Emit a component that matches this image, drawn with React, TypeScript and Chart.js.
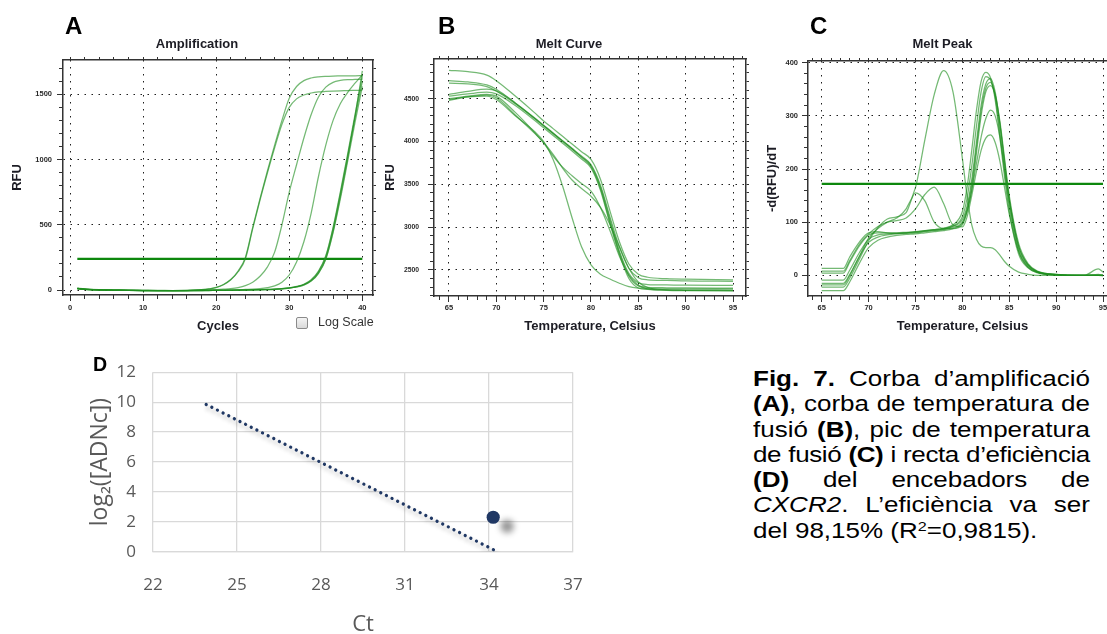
import React, { useEffect, useRef } from "react";
import { Chart, registerables } from "chart.js";

Chart.register(...registerables);

/* ---------------- data ---------------- */

// Panel A – amplification (RFU vs cycle)
const AMP_CYCLES = [1, 2, 4, 6, 8, 10, 12, 14, 16, 18, 19, 20, 21, 22, 23, 24, 25, 26, 27, 28, 29, 30, 31, 32, 33, 34, 35, 36, 37, 38, 39, 40];
const AMP_1 = [14, 8, 2, 0, -2, -3, -4, -4, -3, 3, 9, 20, 42, 80, 145, 250, 480, 700, 910, 1110, 1300, 1470, 1560, 1605, 1625, 1634, 1638, 1640, 1641, 1642, 1642, 1643];
const AMP_2 = [12, 6, 1, -1, -3, -4, -4, -5, -4, 2, 8, 18, 40, 78, 140, 240, 470, 690, 895, 1090, 1270, 1400, 1465, 1495, 1510, 1518, 1522, 1525, 1527, 1528, 1530, 1532];
const AMP_3 = [10, 5, 0, -2, -3, -4, -4, -4, -3, -1, 1, 3, 6, 10, 18, 33, 60, 105, 175, 290, 500, 750, 960, 1165, 1345, 1480, 1555, 1592, 1606, 1612, 1614, 1616];
const AMP_4 = [9, 4, 0, -2, -3, -4, -4, -4, -4, -3, -2, -1, 0, 1, 2, 4, 6, 10, 18, 32, 60, 115, 215, 370, 590, 870, 1110, 1300, 1430, 1515, 1585, 1650];
const AMP_5 = [11, 5, 1, -1, -3, -4, -4, -4, -4, -4, -4, -3, -3, -2, -1, 0, 1, 2, 4, 6, 10, 16, 26, 42, 75, 140, 255, 470, 740, 1030, 1320, 1600];
const AMP_6 = [13, 7, 2, 0, -2, -3, -3, -4, -4, -3, -3, -2, -2, -1, 0, 1, 2, 3, 5, 7, 11, 17, 27, 44, 78, 145, 262, 480, 755, 1045, 1345, 1640];
const AMP_7 = [10, 5, 1, -1, -2, -3, -4, -4, -4, -4, -3, -3, -2, -2, -1, 0, 1, 2, 3, 5, 9, 15, 24, 40, 70, 130, 240, 450, 720, 1010, 1330, 1680];
const AMP_8 = [12, 6, 1, -1, -3, -4, -4, -5, -5, -4, -4, -3, -3, -2, -2, -1, 0, 1, 3, 5, 9, 14, 23, 38, 68, 128, 236, 440, 700, 990, 1285, 1560];
const AMP_THRESHOLD = 238;
const AMP_THRESHOLD_X = [1, 40];
const AMP_X_TICKS = [0, 10, 20, 30, 40];
const AMP_Y_TICKS = [0, 500, 1000, 1500];

// Panel B – melt curve (RFU vs temperature)
const MELT_TEMPS = [65, 67, 69, 70, 72, 74, 75, 76, 77, 78, 79, 80, 81, 82, 83, 84, 85, 86, 88, 90, 95];
const MELT_1 = [4830, 4815, 4775, 4710, 4530, 4340, 4240, 4150, 4060, 3970, 3880, 3790, 3560, 3190, 2830, 2570, 2450, 2415, 2398, 2392, 2385];
const MELT_2 = [4710, 4695, 4660, 4610, 4450, 4280, 4190, 4100, 4010, 3920, 3830, 3730, 3490, 3120, 2770, 2520, 2410, 2385, 2378, 2372, 2368];
const MELT_3 = [4680, 4672, 4640, 4590, 4440, 4270, 4180, 4090, 4000, 3910, 3820, 3720, 3470, 3090, 2720, 2460, 2350, 2330, 2325, 2322, 2320];
const MELT_4 = [4550, 4585, 4610, 4590, 4450, 4275, 4185, 4095, 4005, 3915, 3815, 3705, 3450, 3060, 2700, 2430, 2315, 2298, 2292, 2290, 2288];
const MELT_5 = [4530, 4555, 4575, 4555, 4420, 4250, 4160, 4070, 3980, 3890, 3795, 3690, 3430, 3040, 2680, 2400, 2290, 2272, 2267, 2265, 2264];
const MELT_6 = [4500, 4530, 4550, 4530, 4340, 4110, 3980, 3830, 3700, 3600, 3510, 3420, 3230, 2960, 2660, 2440, 2320, 2280, 2262, 2258, 2255];
const MELT_7 = [4480, 4520, 4540, 4510, 4310, 4100, 3990, 3850, 3690, 3550, 3450, 3360, 3230, 3030, 2770, 2520, 2360, 2295, 2268, 2263, 2260];
const MELT_8 = [4490, 4520, 4530, 4490, 4300, 4120, 4000, 3790, 3480, 3110, 2770, 2560, 2450, 2395, 2345, 2305, 2288, 2282, 2280, 2280, 2280];
const MELT_X_TICKS = [65, 70, 75, 80, 85, 90, 95];
const MELT_Y_TICKS = [2500, 3000, 3500, 4000, 4500];

// Panel C – melt peak (-d(RFU)/dT vs temperature)
const PEAK_TEMPS = [65, 67.3, 68, 69, 70, 71, 72, 73, 74, 75, 76, 77, 78, 79, 80, 80.5, 81, 81.5, 82, 82.5, 83, 83.5, 84, 84.5, 85, 86, 87, 88, 90, 93, 94.5, 95];
const PEAK_1 = [13, 13, 35, 62, 80, 82, 80, 79, 80, 82, 84, 86, 89, 95, 120, 165, 235, 310, 365, 382, 372, 330, 260, 185, 120, 40, 14, 5, 1, 0, 2, 0];
const PEAK_2 = [4, 4, 25, 55, 76, 80, 80, 80, 81, 82, 84, 86, 88, 93, 110, 145, 205, 280, 345, 374, 368, 335, 270, 195, 130, 45, 15, 5, 1, 0, 12, 6];
const PEAK_3 = [-9, -9, 10, 42, 68, 76, 78, 79, 80, 81, 83, 85, 87, 92, 105, 130, 180, 250, 320, 360, 370, 345, 285, 210, 140, 50, 18, 6, 1, 0, 0, 0];
const PEAK_4 = [-15, -15, 2, 35, 62, 72, 76, 78, 79, 80, 82, 84, 86, 90, 100, 125, 170, 240, 310, 352, 363, 340, 285, 215, 145, 55, 20, 7, 1, 0, 0, -1];
const PEAK_5 = [-29, -29, -12, 22, 52, 66, 72, 75, 77, 78, 80, 82, 84, 88, 98, 120, 160, 230, 300, 345, 357, 340, 290, 220, 150, 60, 22, 8, 2, 0, 0, 0];
const PEAK_6 = [-22, -22, -5, 30, 65, 90, 106, 110, 118, 155, 140, 100, 88, 88, 95, 120, 160, 210, 260, 295, 311, 300, 260, 200, 140, 55, 20, 7, 2, 0, 0, 0];
const PEAK_7 = [8, 8, 28, 58, 78, 92, 100, 103, 108, 125, 152, 166, 135, 95, 91, 110, 150, 195, 235, 258, 264, 250, 215, 165, 115, 45, 16, 6, 1, 0, 0, 0];
const PEAK_8 = [-18, -18, 0, 35, 70, 88, 100, 108, 125, 165, 255, 340, 385, 345, 220, 150, 95, 68, 55, 52, 52, 48, 38, 26, 17, 6, 2, 0, 0, 0, 0, 0];
const PEAK_THRESHOLD = 172;
const PEAK_THRESHOLD_X = [65, 95];
const PEAK_X_TICKS = [65, 70, 75, 80, 85, 90, 95];
const PEAK_Y_TICKS = [0, 100, 200, 300, 400];

// Panel D – efficiency line
const EFF_TREND_CT = [23.9, 34.27];
const EFF_TREND_LOG = [9.85, 0.05];
const EFF_POINT_CT = [34.15];
const EFF_POINT_LOG = [2.32];
const EFF_X_TICKS = [22, 25, 28, 31, 34, 37];
const EFF_Y_TICKS = [0, 2, 4, 6, 8, 10, 12];

/* ---------------- styling helpers ---------------- */

const FONT = '"Liberation Sans", Arial, Helvetica, sans-serif';
const CURVE_COLOR = "rgba(30, 142, 30, 0.62)";
const THRESHOLD_COLOR = "#0d870d";
const AXIS_COLOR = "#333333";
const GRID_DOT_COLOR = "#1e1e1e";
const LABEL_COLOR = "#2a2a2a";
const NAVY = "#203864";
const OFFICE_GREY = "#595959";

function range(a: number, b: number, step: number) {
  const out: number[] = [];
  for (let v = a; v <= b + 1e-9; v += step) out.push(+v.toFixed(4));
  return out;
}

const setTicks = (vals: number[]) => (scale: any) => {
  scale.ticks = vals.map((v) => ({ value: v }));
};

type InstrSpec = {
  xs: number[];
  curves: number[][];
  thrX: number[];
  thrY: number;
  xMin: number;
  xMax: number;
  yMin: number;
  yMax: number;
  xMajor: number[];
  yMajor: number[];
  xMinor: number[];
  yMinor: number[];
  xTitle: string;
  yTitle: string;
  yAxisWidth: number;
  yTitlePad: number;
  yTitleLineHeight: number;
  yTickPad: number;
  yTickSize: number;
  xTickPad: number;
  padTop: number;
  padRight: number;
  xAxisHeight: number;
};

function minorAxis(position: string, min: number, max: number, ticks: number[], len: number, border: boolean) {
  const horizontal = position === "top" || position === "bottom";
  return {
    type: "linear",
    position,
    weight: -1,
    min,
    max,
    afterBuildTicks: setTicks(ticks),
    afterFit: (s: any) => {
      if (horizontal) s.height = 0;
      else s.width = 0;
    },
    ticks: { display: false },
    grid: { drawOnChartArea: false, drawTicks: true, tickLength: len, tickColor: AXIS_COLOR, tickWidth: 1 },
    border: { display: border, color: AXIS_COLOR, width: 1.5 },
  };
}

function instrConfig(p: InstrSpec): any {
  const datasets: any[] = p.curves.map((c) => ({
    data: p.xs.map((x, i) => ({ x, y: c[i] })),
    borderColor: CURVE_COLOR,
    borderWidth: 1.25,
    pointRadius: 0,
    cubicInterpolationMode: "monotone",
    xAxisID: "x",
    yAxisID: "y",
  }));
  datasets.push({
    data: p.thrX.map((x) => ({ x, y: p.thrY })),
    borderColor: THRESHOLD_COLOR,
    borderWidth: 2.2,
    pointRadius: 0,
    xAxisID: "x",
    yAxisID: "y",
  });
  const tickFont = { family: FONT, size: 7.5, weight: "bold" };
  const titleFont = { family: FONT, size: 13, weight: "bold", lineHeight: 1.2 };
  const label = (v: any) => String(v);
  return {
    type: "line",
    data: { datasets },
    options: {
      animation: false,
      responsive: false,
      devicePixelRatio: 1,
      layout: { padding: { top: p.padTop, right: p.padRight, left: 0, bottom: 0 } },
      plugins: { legend: { display: false }, tooltip: { enabled: false } },
      scales: {
        x: {
          type: "linear",
          position: "bottom",
          min: p.xMin,
          max: p.xMax,
          afterBuildTicks: setTicks(p.xMajor),
          afterFit: (s: any) => {
            s.height = p.xAxisHeight;
          },
          ticks: { font: tickFont, color: LABEL_COLOR, padding: p.xTickPad, maxRotation: 0, autoSkip: false, callback: label },
          grid: { color: GRID_DOT_COLOR, lineWidth: 1, drawTicks: true, tickLength: 6, tickColor: AXIS_COLOR, tickWidth: 1 },
          border: { display: true, color: AXIS_COLOR, width: 1.5, dash: [1.5, 5.5] },
          title: { display: true, text: p.xTitle, font: titleFont, color: "#1c1c24", padding: { top: 0, bottom: 11.2 } },
        },
        xm: minorAxis("bottom", p.xMin, p.xMax, p.xMinor, 4, false),
        xt: minorAxis("top", p.xMin, p.xMax, p.xMinor, 3, true),
        y: {
          type: "linear",
          position: "left",
          min: p.yMin,
          max: p.yMax,
          afterBuildTicks: setTicks(p.yMajor),
          afterFit: (s: any) => {
            s.width = p.yAxisWidth;
          },
          ticks: { font: { ...tickFont, size: p.yTickSize }, color: LABEL_COLOR, padding: p.yTickPad, autoSkip: false, callback: label },
          grid: { color: GRID_DOT_COLOR, lineWidth: 1, drawTicks: true, tickLength: 6, tickColor: AXIS_COLOR, tickWidth: 1 },
          border: { display: true, color: AXIS_COLOR, width: 1.5, dash: [1.5, 5.5] },
          title: {
            display: true,
            text: p.yTitle,
            font: { ...titleFont, lineHeight: p.yTitleLineHeight },
            color: "#1c1c24",
            padding: { top: p.yTitlePad, bottom: 0 },
          },
        },
        ym: minorAxis("left", p.yMin, p.yMax, p.yMinor, 4, false),
        yr: minorAxis("right", p.yMin, p.yMax, p.yMinor, 3, true),
      },
    },
  };
}

const makeA = () =>
  instrConfig({
    xs: AMP_CYCLES,
    curves: [AMP_1, AMP_2, AMP_3, AMP_4, AMP_5, AMP_6, AMP_7, AMP_8],
    thrX: AMP_THRESHOLD_X,
    thrY: AMP_THRESHOLD,
    xMin: -0.96,
    xMax: 41.46,
    yMin: -38.3,
    yMax: 1763,
    xMajor: AMP_X_TICKS,
    yMajor: AMP_Y_TICKS,
    xMinor: range(0, 40, 2),
    yMinor: range(0, 1700, 100),
    xTitle: "Cycles",
    yTitle: "RFU",
    yAxisWidth: 63,
    yTitlePad: 9.2,
    yTitleLineHeight: 1.2,
    yTickPad: 5,
    yTickSize: 7.5,
    xTickPad: 2.5,
    padTop: 60,
    padRight: 12,
    xAxisHeight: 50,
  });

const makeB = () =>
  instrConfig({
    xs: MELT_TEMPS,
    curves: [MELT_1, MELT_2, MELT_3, MELT_4, MELT_5, MELT_6, MELT_7, MELT_8],
    thrX: [],
    thrY: 0,
    xMin: 63.42,
    xMax: 96.37,
    yMin: 2196,
    yMax: 4963,
    xMajor: MELT_X_TICKS,
    yMajor: MELT_Y_TICKS,
    xMinor: range(64, 96, 1),
    yMinor: range(2200, 4900, 100),
    xTitle: "Temperature, Celsius",
    yTitle: "RFU",
    yAxisWidth: 49,
    yTitlePad: -1,
    yTitleLineHeight: 1.0,
    yTickPad: 9,
    yTickSize: 6.8,
    xTickPad: 1.5,
    padTop: 59,
    padRight: 14,
    xAxisHeight: 49,
  });

const makeC = () =>
  instrConfig({
    xs: PEAK_TEMPS,
    curves: [PEAK_1, PEAK_2, PEAK_3, PEAK_4, PEAK_5, PEAK_6, PEAK_7, PEAK_8],
    thrX: PEAK_THRESHOLD_X,
    thrY: PEAK_THRESHOLD,
    xMin: 63.54,
    xMax: 96.49,
    yMin: -38.9,
    yMax: 403.2,
    xMajor: PEAK_X_TICKS,
    yMajor: PEAK_Y_TICKS,
    xMinor: range(64, 96, 1),
    yMinor: range(-20, 400, 20),
    xTitle: "Temperature, Celsius",
    yTitle: "-d(RFU)/dT",
    yAxisWidth: 48,
    yTitlePad: 4.2,
    yTitleLineHeight: 1.2,
    yTickPad: 4,
    yTickSize: 7.5,
    xTickPad: 1.5,
    padTop: 61,
    padRight: 13,
    xAxisHeight: 49,
  });

const shadowPlugin = {
  id: "datasetShadow",
  beforeDatasetDraw(chart: any, args: any) {
    const ds: any = chart.data.datasets[args.index];
    if (!ds.shadow) return;
    const ctx = chart.ctx;
    ctx.save();
    ctx.shadowColor = ds.shadow.color;
    ctx.shadowBlur = ds.shadow.blur;
    ctx.shadowOffsetX = ds.shadow.x;
    ctx.shadowOffsetY = ds.shadow.y;
  },
  afterDatasetDraw(chart: any, args: any) {
    const ds: any = chart.data.datasets[args.index];
    if (ds.shadow) chart.ctx.restore();
  },
};

const makeD = (): any => {
  const officeFont = '"Open Sans", "Noto Sans", sans-serif';
  return {
    type: "scatter",
    data: {
      datasets: [
        {
          data: EFF_TREND_CT.map((x, i) => ({ x, y: EFF_TREND_LOG[i] })),
          showLine: true,
          borderColor: NAVY,
          borderWidth: 3.3,
          borderDash: [0.01, 6.3],
          borderCapStyle: "round",
          pointRadius: 0,
          shadow: { color: "rgba(0,0,0,0.30)", blur: 4, x: 2, y: 4 },
        },
        {
          data: EFF_POINT_CT.map((x, i) => ({ x, y: EFF_POINT_LOG[i] })),
          pointRadius: 6.6,
          backgroundColor: NAVY,
          borderColor: NAVY,
          borderWidth: 0,
          shadow: { color: "rgba(0,0,0,0.42)", blur: 6, x: 14, y: 9 },
        },
      ],
    },
    plugins: [shadowPlugin],
    options: {
      animation: false,
      responsive: false,
      devicePixelRatio: 1,
      layout: { padding: { top: 19, right: 47, left: 0, bottom: 0 } },
      plugins: { legend: { display: false }, tooltip: { enabled: false } },
      scales: {
        x: {
          type: "linear",
          min: 22,
          max: 37,
          afterBuildTicks: setTicks(EFF_X_TICKS),
          afterFit: (s: any) => {
            s.height = 82;
          },
          ticks: { font: { family: officeFont, size: 17 }, color: OFFICE_GREY, padding: 23, maxRotation: 0, autoSkip: false, callback: (v: any) => String(v) },
          grid: { color: "#d9d9d9", lineWidth: 1.3, drawTicks: false },
          border: { display: true, color: "#d9d9d9", width: 1.3 },
          title: { display: true, text: "Ct", font: { family: officeFont, size: 22, lineHeight: 1 }, color: OFFICE_GREY, padding: { top: 0, bottom: -2 } },
        },
        y: {
          type: "linear",
          min: 0,
          max: 12,
          afterBuildTicks: setTicks(EFF_Y_TICKS),
          afterFit: (s: any) => {
            s.width = 73;
          },
          ticks: { font: { family: officeFont, size: 17 }, color: OFFICE_GREY, padding: 17, autoSkip: false, callback: (v: any) => String(v) },
          grid: { color: "#d9d9d9", lineWidth: 1.3, drawTicks: false },
          border: { display: false },
          title: {
            display: true,
            text: "log\u2082([ADNc])",
            font: { family: officeFont, size: 23, lineHeight: 1.2 },
            color: OFFICE_GREY,
            padding: { top: 6.2, bottom: 0 },
          },
        },
      },
    },
  };
};

/* ---------------- components ---------------- */

function ChartCanvas(props: { make: () => any; left: number; top: number; width: number; height: number }) {
  const ref = useRef<HTMLCanvasElement>(null);
  useEffect(() => {
    const chart = new Chart(ref.current as HTMLCanvasElement, props.make());
    return () => chart.destroy();
  }, []);
  return (
    <canvas
      ref={ref}
      width={props.width}
      height={props.height}
      style={{ position: "absolute", left: props.left, top: props.top, width: props.width, height: props.height }}
    />
  );
}

const abs = (left: number, top: number, extra: React.CSSProperties = {}): React.CSSProperties => ({
  position: "absolute",
  left,
  top,
  whiteSpace: "nowrap",
  ...extra,
});

const letterStyle: React.CSSProperties = { fontSize: 24, lineHeight: "24px", fontWeight: 700, color: "#000" };
const chartTitleStyle: React.CSSProperties = {
  fontSize: 13,
  lineHeight: "15px",
  fontWeight: 700,
  color: "#1c1c24",
  width: 200,
  textAlign: "center",
};

const CAPTION_LINES: React.ReactNode[][] = [
  [<b key="a">Fig.</b>, <b key="b">7.</b>, "Corba", "d\u2019amplificaci\u00f3"],
  [<span key="a"><b>(A)</b>,</span>, "corba", "de", "temperatura", "de"],
  ["fusi\u00f3", <span key="a"><b>(B)</b>,</span>, "pic", "de", "temperatura"],
  ["de", "fusi\u00f3", <b key="a">(C)</b>, "i", "recta", "d\u2019efici\u00e8ncia"],
  [<b key="a">(D)</b>, "del", "encebadors", "de"],
  [<span key="a"><i>CXCR2</i>.</span>, "L\u2019efici\u00e8ncia", "va", "ser"],
];
const CAPTION_SPACING = [0, 0, 0, -0.4, 0, 0];

function Caption() {
  // text is drawn at 26px and squeezed vertically (the reference text is wide and short)
  const squeeze = 0.84;
  const lh = 30.1;
  const base: React.CSSProperties = { fontSize: 26, lineHeight: `${lh}px`, color: "#000", width: 337, height: lh };
  return (
    <div style={{ ...abs(753, 365.8), width: 337, transform: `scaleY(${squeeze})`, transformOrigin: "0 0" }}>
      {CAPTION_LINES.map((words, i) => (
        <div
          key={i}
          style={{
            ...base,
            whiteSpace: "nowrap",
            display: "flex",
            justifyContent: "space-between",
            letterSpacing: CAPTION_SPACING[i],
          }}
        >
          {words.map((w, j) => (
            <span key={j}>{w}</span>
          ))}
        </div>
      ))}
      <div style={{ ...base, whiteSpace: "nowrap" }}>
        del 98,15% (R<sup style={{ fontSize: "0.62em", lineHeight: 0, verticalAlign: "0.55em" }}>2</sup>=0,9815).
      </div>
    </div>
  );
}

export default function App() {
  return (
    <div
      style={{
        position: "absolute",
        left: 0,
        top: 0,
        width: 1107,
        height: 634,
        overflow: "hidden",
        background: "#ffffff",
        fontFamily: FONT,
      }}
    >
      <ChartCanvas make={makeA} left={0} top={0} width={385} height={345} />
      <ChartCanvas make={makeB} left={385} top={0} width={375} height={345} />
      <ChartCanvas make={makeC} left={760} top={0} width={370} height={345} />
      <ChartCanvas make={makeD} left={80} top={345} width={540} height={289} />

      <div style={{ ...abs(65, 14), ...letterStyle }}>A</div>
      <div style={{ ...abs(438, 14), ...letterStyle }}>B</div>
      <div style={{ ...abs(810, 14), ...letterStyle }}>C</div>
      <div style={{ ...abs(93, 353.8), fontSize: 19.6, lineHeight: "20px", fontWeight: 700, color: "#000" }}>D</div>

      <div style={{ ...abs(97, 35.5), ...chartTitleStyle }}>Amplification</div>
      <div style={{ ...abs(469, 35.5), ...chartTitleStyle }}>Melt Curve</div>
      <div style={{ ...abs(842.5, 35.5), ...chartTitleStyle }}>Melt Peak</div>

      <div
        style={{
          ...abs(296, 317),
          width: 12,
          height: 12,
          border: "1px solid #8a8a8a",
          borderRadius: 2,
          background: "linear-gradient(#f4f4f4, #d9d9d9)",
          boxSizing: "border-box",
        }}
      />
      <div style={{ ...abs(318, 315), fontSize: 12.5, lineHeight: "15px", color: "#333" }}>Log Scale</div>

      <Caption />
    </div>
  );
}
